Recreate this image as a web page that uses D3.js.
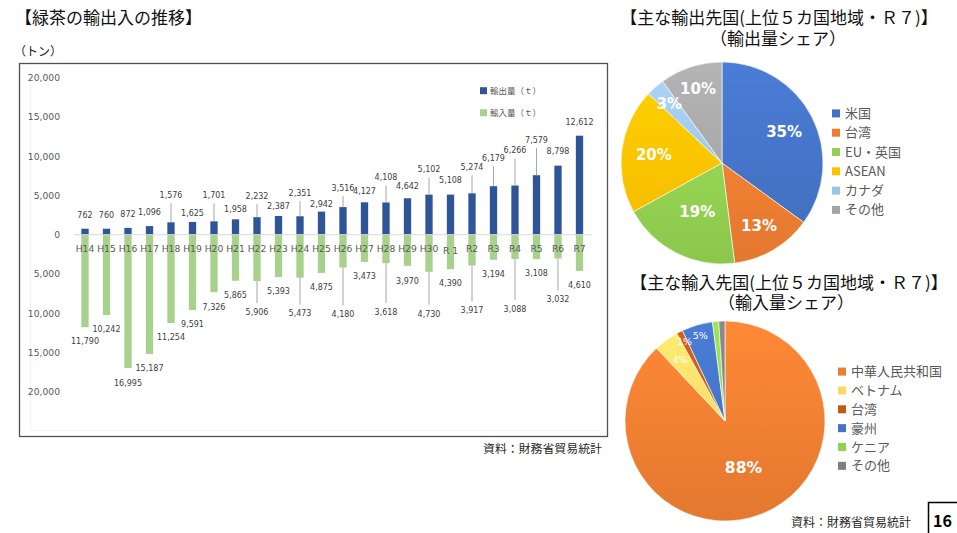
<!DOCTYPE html>
<html>
  <head>
    <meta charset="utf-8">
    <title>緑茶の輸出入の推移</title>
    <script src="https://d3js.org/d3.v7.min.js"></script>
    <style>
      body { margin: 0; background: #fff; }
      svg { display: block; }
      .jp { font-family: "Noto Sans CJK JP", "Noto Sans", sans-serif; }
      .num { font-family: "DejaVu Sans", Verdana, sans-serif; }
      .axis .domain, .axis .tick line { display: none; }
      .axis .tick text { font-family: "DejaVu Sans", Verdana, sans-serif; font-size: 9.2px; fill: #595959; }
    </style>
  </head>
  <body>
    <svg width="957" height="533"></svg>
    <script>
      // bar chart data (tons)
      const categories = ["H14","H15","H16","H17","H18","H19","H20","H21","H22","H23","H24","H25",
                          "H26","H27","H28","H29","H30","R 1","R2","R3","R4","R5","R6","R7"];
      const exportTons = [762,760,872,1096,1576,1625,1701,1958,2232,2387,2351,2942,
                          3516,4127,4108,4642,5102,5108,5274,6179,6266,7579,8798,12612];
      const importTons = [11790,10242,16995,15187,11254,9591,7326,5865,5906,5393,5473,4875,
                          4180,3473,3618,3970,4730,4390,3917,3194,3088,3108,3032,4610];
      const yTicks = [20000,15000,10000,5000,0,-5000,-10000,-15000,-20000];

      // pie data (share %)
      const exportShareNames = ["米国","台湾","EU・英国","ASEAN","カナダ","その他"];
      const exportShare = [35,13,19,20,3,10];
      const importShareNames = ["中華人民共和国","ベトナム","台湾","豪州","ケニア","その他"];
      const importShare = [88,4,1,5,1,1];

      // label placement, as Excel left it (px from bar end / fraction of radius)
      const exportLabelLift = [14,14,14,14,27,9,26,10,21,10,23,7,19,11,25,12,25,14,26,28,35,35,14,13];
      const importLabelDrop = [14,14,15,14,14,14,15,14,31,14,36,14,47,14,49,15,42,14,45,14,50,14,41,14];
      const exportLabelR = [0.69,0.72,0.54,0.68,0.79,0.77];
      const importLabelR = [0.5,0.76,0.89,0.89,null,null];

      const exportColors = ["#4472C4","#ED7D31","#92D050","#FFC000","#9DC3E6","#A5A5A5"];
      const importColors = ["#ED7D31","#FFD966","#C55A11","#4472C4","#92D050","#7F7F7F"];

      const svg = d3.select("svg");
      const defs = svg.append("defs");
      const fmt = d3.format(",");

      // ---------- left: bar chart ----------
      svg.append("text").attr("class", "jp")
          .attr("x", 15).attr("y", 18.5).attr("dy", "0.35em")
          .attr("font-size", 17).attr("fill", "#111")
          .text("【緑茶の輸出入の推移】");
      svg.append("text").attr("class", "jp")
          .attr("x", 14).attr("y", 52).attr("dy", "0.35em")
          .attr("font-size", 12).attr("fill", "#222")
          .text("（トン）");

      svg.append("rect")
          .attr("x", 19.5).attr("y", 63.5).attr("width", 588).attr("height", 373)
          .attr("fill", "#fff").attr("stroke", "#505050").attr("stroke-width", 1.3);
      svg.append("path")
          .attr("d", "M30.5,70V430.5H600")
          .attr("fill", "none").attr("stroke", "#f2f2f2");

      const xScale = d3.scaleBand()
          .domain(categories)
          .range([74.25, 590.25])
          .paddingInner(0.66)
          .paddingOuter(0.33);
      const yScale = d3.scaleLinear()
          .domain([-20000, 20000])
          .range([391.7, 77.7]);

      const yAxis = d3.axisLeft(yScale)
          .tickValues(yTicks)
          .tickSize(0)
          .tickPadding(3)
          .tickFormat(d => fmt(Math.abs(d)));
      svg.append("g")
          .attr("class", "axis")
          .attr("transform", "translate(63,0)")
          .call(yAxis);

      const rows = categories.map((c, i) => ({
        cat: c, ex: exportTons[i], im: importTons[i],
        lift: exportLabelLift[i], drop: importLabelDrop[i]
      }));
      const cx = d => xScale(d.cat) + xScale.bandwidth() / 2;

      // import bars (drawn downward)
      svg.append("g").selectAll("rect").data(rows).join("rect")
          .attr("x", d => xScale(d.cat))
          .attr("y", yScale(0))
          .attr("width", xScale.bandwidth())
          .attr("height", d => yScale(-d.im) - yScale(0))
          .attr("fill", "#A9D18E");
      // export bars
      svg.append("g").selectAll("rect").data(rows).join("rect")
          .attr("x", d => xScale(d.cat))
          .attr("y", d => yScale(d.ex))
          .attr("width", xScale.bandwidth())
          .attr("height", d => yScale(0) - yScale(d.ex))
          .attr("fill", "#2F5597");

      svg.append("line")
          .attr("x1", 74).attr("x2", 592)
          .attr("y1", yScale(0)).attr("y2", yScale(0))
          .attr("stroke", "#d9d9d9");

      // leader lines
      const leaders = svg.append("g").attr("stroke", "#a6a6a6").attr("stroke-width", 1);
      leaders.selectAll(".lx").data(rows.filter(d => d.lift > 16)).join("line")
          .attr("x1", cx).attr("x2", cx)
          .attr("y1", d => yScale(d.ex) - d.lift + 8)
          .attr("y2", d => yScale(d.ex));
      leaders.selectAll(".li").data(rows.filter(d => d.drop > 16)).join("line")
          .attr("x1", cx).attr("x2", cx)
          .attr("y1", d => yScale(-d.im))
          .attr("y2", d => yScale(-d.im) + d.drop - 9);

      // data labels
      svg.append("g").selectAll("text").data(rows).join("text")
          .attr("class", "num")
          .attr("x", cx)
          .attr("y", d => yScale(d.ex) - d.lift)
          .attr("dy", "0.35em")
          .attr("text-anchor", "middle")
          .attr("font-size", 8).attr("fill", "#404040")
          .text(d => fmt(d.ex));
      svg.append("g").selectAll("text").data(rows).join("text")
          .attr("class", "num")
          .attr("x", cx)
          .attr("y", d => yScale(-d.im) + d.drop)
          .attr("dy", "0.35em")
          .attr("text-anchor", "middle")
          .attr("font-size", 8).attr("fill", "#404040")
          .text(d => fmt(d.im));

      // category labels sit on top of the import bars
      svg.append("g").selectAll("text").data(rows).join("text")
          .attr("class", "num")
          .attr("x", cx)
          .attr("y", d => d.cat === "R 1" ? 250.5 : 248.3)
          .attr("dy", "0.35em")
          .attr("text-anchor", "middle")
          .attr("font-size", 9.2).attr("fill", "#595959")
          .text(d => d.cat);

      // legend
      const barLegend = [["輸出量（ｔ）", "#2F5597"], ["輸入量（ｔ）", "#A9D18E"]];
      const bl = svg.append("g").selectAll("g").data(barLegend).join("g")
          .attr("transform", (d, i) => `translate(480,${90.7 + i * 22})`);
      bl.append("rect").attr("x", 0).attr("y", -3.5).attr("width", 7).attr("height", 7)
          .attr("fill", d => d[1]);
      bl.append("text").attr("class", "jp")
          .attr("x", 10).attr("dy", "0.35em")
          .attr("font-size", 8.5).attr("fill", "#595959")
          .text(d => d[0]);

      svg.append("text").attr("class", "jp")
          .attr("x", 483).attr("y", 448.5).attr("dy", "0.35em")
          .attr("font-size", 11.9).attr("fill", "#262626")
          .text("資料：財務省貿易統計");

      // ---------- right: pies ----------
      function drawPie(opt) {
        const t = svg.append("text").attr("class", "jp")
            .attr("y", opt.titleY)
            .attr("text-anchor", "middle")
            .attr("font-size", 17).attr("fill", "#111");
        t.append("tspan").attr("x", opt.titleX).attr("dy", "0.35em").text(opt.title);
        t.append("tspan").attr("x", opt.subX).attr("dy", opt.subGap).text(opt.sub);

        const arcs = d3.pie().sort(null).value(d => d)(opt.values);
        const arc = d3.arc().innerRadius(0).outerRadius(opt.r);
        const g = svg.append("g").attr("transform", `translate(${opt.cx},${opt.cy})`);

        opt.colors.forEach((c, i) => {
          const lg = defs.append("linearGradient")
              .attr("id", `${opt.id}-g${i}`)
              .attr("gradientUnits", "userSpaceOnUse")
              .attr("x1", 0).attr("y1", -opt.r).attr("x2", 0).attr("y2", opt.r);
          lg.append("stop").attr("offset", 0).attr("stop-color", d3.color(c).brighter(0.25));
          lg.append("stop").attr("offset", 1).attr("stop-color", d3.color(c).darker(0.12));
        });

        g.selectAll("path").data(arcs).join("path")
            .attr("d", arc)
            .attr("fill", (d, i) => `url(#${opt.id}-g${i})`)
            .attr("stroke", "#fff").attr("stroke-width", 0.6);

        const big = d => d.value >= opt.bigFrom;
        g.selectAll("text").data(arcs.filter((d, i) => opt.labelR[i] != null)).join("text")
            .attr("class", "num")
            .attr("transform", d => {
              const f = opt.labelR[d.index] * opt.r;
              const p = d3.arc().innerRadius(f).outerRadius(f).centroid(d);
              return `translate(${p[0]},${p[1]})`;
            })
            .attr("dy", "0.36em")
            .attr("text-anchor", "middle")
            .attr("fill", "#fff")
            .attr("font-weight", d => big(d) ? "bold" : "normal")
            .attr("font-size", d => big(d) ? opt.bigFont : 9.5)
            .text(d => d.value + "%");

        const lg = svg.append("g").selectAll("g").data(opt.names).join("g")
            .attr("transform", (d, i) => `translate(${opt.legX},${opt.legY + i * opt.legStep})`);
        lg.append("rect").attr("x", 0).attr("y", -4).attr("width", 8).attr("height", 8)
            .attr("fill", (d, i) => opt.colors[i]);
        lg.append("text").attr("class", "jp")
            .attr("x", 13).attr("dy", "0.35em")
            .attr("font-size", 13).attr("fill", "#595959")
            .text(d => d);
      }

      drawPie({
        id: "ex", title: "【主な輸出先国(上位５カ国地域・Ｒ７)】", sub: "（輸出量シェア）",
        titleX: 779, titleY: 18.3, subX: 778, subGap: 21,
        values: exportShare, names: exportShareNames, colors: exportColors, labelR: exportLabelR,
        cx: 722, cy: 163, r: 101, bigFont: 15, bigFrom: 0,
        legX: 832, legY: 113.4, legStep: 19.3
      });
      drawPie({
        id: "im", title: "【主な輸入先国(上位５カ国地域・Ｒ７)】", sub: "（輸入量シェア）",
        titleX: 789, titleY: 283.3, subX: 786, subGap: 19.5,
        values: importShare, names: importShareNames, colors: importColors, labelR: importLabelR,
        cx: 725, cy: 421, r: 100, bigFont: 15.5, bigFrom: 10,
        legX: 838, legY: 371.6, legStep: 18.85
      });

      svg.append("text").attr("class", "jp")
          .attr("x", 791).attr("y", 522.3).attr("dy", "0.35em")
          .attr("font-size", 12).attr("fill", "#262626")
          .text("資料：財務省貿易統計");

      // page number box
      svg.append("path")
          .attr("d", "M928.5,540V502.5H960")
          .attr("fill", "none").attr("stroke", "#000").attr("stroke-width", 1.5);
      svg.append("text").attr("class", "jp")
          .attr("x", 933).attr("y", 521.5).attr("dy", "0.35em")
          .attr("font-size", 16).attr("font-weight", "bold").attr("fill", "#000")
          .text("16");
    </script>
  </body>
</html>
